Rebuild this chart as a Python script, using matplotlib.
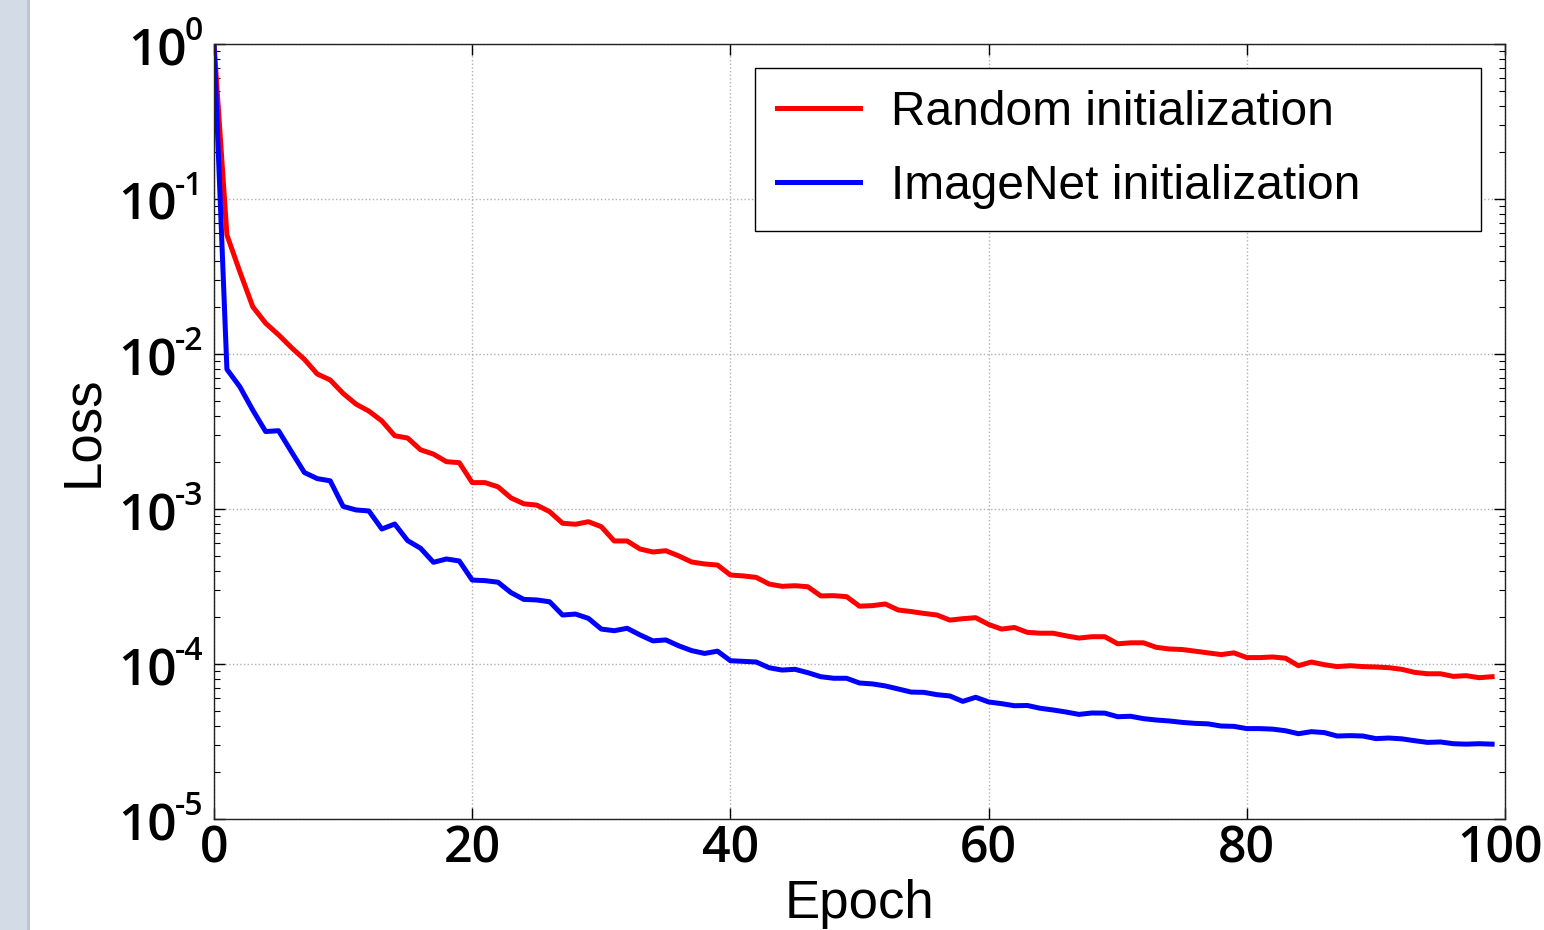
import matplotlib
matplotlib.use("Agg")
import matplotlib.pyplot as plt
from matplotlib import font_manager
from matplotlib.patches import Rectangle
from matplotlib.transforms import ScaledTranslation

epochs = list(range(100))
random_init = [
    1.0, 0.0586, 0.034, 0.0202, 0.0158, 0.0133, 0.011, 0.00924, 0.00743, 0.0068,
    0.00557, 0.00475, 0.00428, 0.0037, 0.00297, 0.00287, 0.00241, 0.00226, 0.00202, 0.00199,
    0.00148, 0.00148, 0.00139, 0.00118, 0.00108, 0.00106, 0.000961, 0.000809, 0.000797, 0.000828,
    0.000769, 0.000622, 0.000622, 0.000552, 0.000528, 0.000538, 0.000498, 0.000455, 0.000442, 0.000435,
    0.000375, 0.00037, 0.000362, 0.000328, 0.000317, 0.00032, 0.000315, 0.000275, 0.000276, 0.000272,
    0.000236, 0.000238, 0.000244, 0.000223, 0.000218, 0.000212, 0.000207, 0.000192, 0.000196, 0.000199,
    0.00018, 0.000168, 0.000172, 0.00016, 0.000158, 0.000158, 0.000152, 0.000147, 0.00015, 0.00015,
    0.000135, 0.000137, 0.000137, 0.000128, 0.000125, 0.000124, 0.000121, 0.000118, 0.000115, 0.000118,
    0.00011, 0.00011, 0.000111, 0.000109, 0.0000975, 0.000103, 0.000099, 0.0000962, 0.0000975, 0.0000962,
    0.0000957, 0.0000947, 0.0000924, 0.0000883, 0.0000865, 0.0000865, 0.0000832, 0.0000841, 0.0000816, 0.0000828,
]
imagenet_init = [
    1.0, 0.00797, 0.00615, 0.00435, 0.00316, 0.0032, 0.00234, 0.00172, 0.00157, 0.00152,
    0.00104, 0.000986, 0.000971, 0.000743, 0.0008, 0.000625, 0.000558, 0.000453, 0.000476, 0.000462,
    0.000348, 0.000345, 0.000337, 0.000289, 0.000261, 0.000259, 0.000252, 0.000207, 0.00021, 0.000197,
    0.000168, 0.000164, 0.00017, 0.000154, 0.000141, 0.000143, 0.000131, 0.000122, 0.000117, 0.000121,
    0.000105, 0.000104, 0.000103, 0.0000946, 0.0000914, 0.0000924, 0.0000879, 0.0000828, 0.0000809, 0.0000809,
    0.0000754, 0.0000744, 0.0000722, 0.000069, 0.0000659, 0.0000656, 0.0000634, 0.0000622, 0.0000574, 0.000061,
    0.0000569, 0.0000555, 0.0000538, 0.000054, 0.0000518, 0.0000505, 0.000049, 0.0000473, 0.0000483, 0.0000482,
    0.0000457, 0.000046, 0.0000444, 0.0000435, 0.0000429, 0.000042, 0.0000414, 0.0000411, 0.0000398, 0.0000396,
    0.0000383, 0.0000383, 0.000038, 0.0000371, 0.0000355, 0.0000366, 0.0000361, 0.0000343, 0.0000345, 0.0000343,
    0.000033, 0.0000333, 0.0000329, 0.000032, 0.0000312, 0.0000314, 0.0000306, 0.0000304, 0.0000306, 0.0000304,
]
series_labels = ["Random initialization", "ImageNet initialization"]
x_ticks = [0, 20, 40, 60, 80, 100]
y_exponents = [0, -1, -2, -3, -4, -5]

names = {f.name for f in font_manager.fontManager.ttflist}
label_font = "Liberation Sans" if "Liberation Sans" in names else "DejaVu Sans"
tick_font = "Open Sans" if "Open Sans" in names else "DejaVu Sans"

plt.rcParams["font.family"] = [tick_font, "DejaVu Sans"]
plt.rcParams["font.weight"] = "semibold"

W, H = 1544, 930
fig = plt.figure(figsize=(W / 100, H / 100), dpi=100)
fig.patch.set_facecolor("white")

# left frame strip (screenshot border)
fig.patches.append(Rectangle((0, 0), 27 / W, 1, transform=fig.transFigure,
                             facecolor="#d3dbe6", edgecolor="none", zorder=0))
fig.patches.append(Rectangle((27 / W, 0), 3 / W, 1, transform=fig.transFigure,
                             facecolor="#bcc5d1", edgecolor="none", zorder=0))

ax = fig.add_axes([214 / W, 1 - 819 / H, (1505 - 214) / W, (819 - 44) / H])
ax.plot(epochs, random_init, color="#ff0000", lw=3.6, label=series_labels[0])
ax.plot(epochs, imagenet_init, color="#0000ff", lw=3.6, label=series_labels[1])
ax.set_yscale("log")
ax.set_ylim(1e-5, 1e0)
ax.set_xlim(0, 100)
ax.set_xticks(x_ticks)
ax.set_yticks([10.0 ** e for e in y_exponents])
ax.grid(True, which="major", color="#b0b0b0", linestyle=":", linewidth=1.0)
ax.tick_params(which="both", direction="in", top=True, right=True)
ax.tick_params(axis="x", labelsize=36, pad=4)
ax.tick_params(axis="y", which="both", labelleft=False)
ax.tick_params(which="major", length=8, width=1)
ax.tick_params(which="minor", length=4, width=0.8)
for sp in ax.spines.values():
    sp.set_linewidth(1.0)
    sp.set_color("#222222")

# y tick labels: "10" with a small superscript exponent
ytr = ax.get_yaxis_transform()
fig.canvas.draw()
renderer = fig.canvas.get_renderer()
for e in y_exponents:
    sup = ax.annotate(f"{e}", xy=(0, 10.0 ** e), xycoords=ytr,
                      xytext=(-11, 4), textcoords="offset pixels",
                      ha="right", va="baseline", fontsize=23, fontweight="semibold",
                      annotation_clip=False)
    w = sup.get_window_extent(renderer).width
    ax.annotate("10", xy=(0, 10.0 ** e), xycoords=ytr,
                xytext=(-11 - w + 2, -21), textcoords="offset pixels",
                ha="right", va="baseline", fontsize=37, fontweight="semibold",
                annotation_clip=False)

# keep the last x tick label inside the figure, like the reference
last = ax.get_xticklabels()[-1]
last.set_transform(last.get_transform() + ScaledTranslation(-5 / 100, 0, fig.dpi_scale_trans))

ax.set_xlabel("Epoch", fontsize=38, family=label_font, fontweight="normal")
ax.set_ylabel("Loss", fontsize=38, family=label_font, fontweight="normal")
ax.xaxis.set_label_coords(0.5, -(879 - 819) / 775)
ax.yaxis.set_label_coords(-(214 - 108) / 1291, 0.5)

leg = ax.legend(loc="upper left",
                bbox_to_anchor=(755 / W, 1 - 229 / H, (1481 - 755) / W, (229 - 68) / H),
                bbox_transform=fig.transFigure, mode="expand", borderaxespad=0,
                prop={"family": label_font, "size": 34.5, "weight": "normal"},
                handlelength=1.73, handletextpad=0.65, labelspacing=0.6,
                borderpad=0.46, fancybox=False, framealpha=1, edgecolor="black")
leg.get_frame().set_linewidth(1.0)

fig.savefig("out.png", dpi=100)
